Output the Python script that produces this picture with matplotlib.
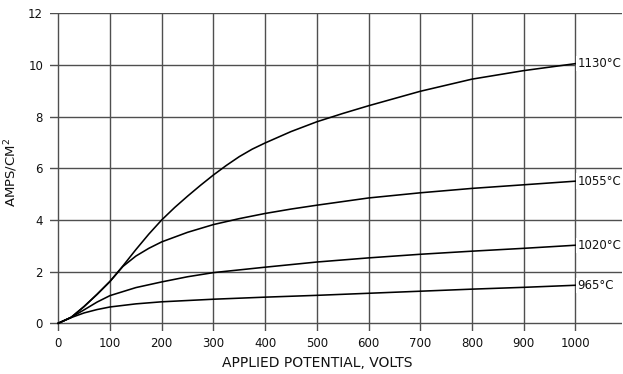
import numpy as np
from matplotlib import pyplot as plt

# === DATA ===
volts_1130 = [0, 25, 50, 75, 100, 125, 150, 175, 200, 225, 250, 275, 300, 325, 350, 375, 400, 450, 500, 550, 600, 700, 800, 900, 1000]
amps_1130 = [0, 0.23, 0.65, 1.12, 1.62, 2.22, 2.85, 3.45, 4.0, 4.48, 4.92, 5.34, 5.74, 6.11, 6.45, 6.74, 6.98, 7.42, 7.8, 8.12, 8.42, 8.98, 9.45, 9.78, 10.05]

volts_1055 = [0, 25, 50, 75, 100, 125, 150, 175, 200, 250, 300, 350, 400, 450, 500, 600, 700, 800, 900, 1000]
amps_1055 = [0, 0.23, 0.65, 1.12, 1.62, 2.2, 2.6, 2.9, 3.15, 3.52, 3.82, 4.05, 4.25, 4.42, 4.57, 4.85, 5.05, 5.22, 5.36, 5.5]

volts_1020 = [0, 25, 50, 75, 100, 150, 200, 250, 300, 400, 500, 600, 700, 800, 900, 1000]
amps_1020 = [0, 0.23, 0.52, 0.82, 1.07, 1.38, 1.6, 1.8, 1.96, 2.17, 2.37, 2.53, 2.67, 2.79, 2.9, 3.02]

volts_965 = [0, 25, 50, 75, 100, 150, 200, 300, 400, 500, 600, 700, 800, 900, 1000]
amps_965 = [0, 0.22, 0.4, 0.53, 0.63, 0.75, 0.83, 0.93, 1.01, 1.08, 1.16, 1.24, 1.32, 1.39, 1.47]

curve_labels = ['1130°C', '1055°C', '1020°C', '965°C']
x_ticks = [0, 100, 200, 300, 400, 500, 600, 700, 800, 900, 1000]
y_ticks = [0, 2, 4, 6, 8, 10, 12]

plt.rcParams['font.family'] = ['DejaVu Sans']
text_color = '#111111'
grid_color = '#4f4f4f'

fig = plt.figure(figsize=(6.23, 3.74), dpi=100)
ax = fig.add_axes([0.0803, 0.115, 0.918, 0.8495])

# grid: vertical lines only up to 1000, horizontal lines run to the right edge
for x in x_ticks:
    ax.axvline(x, color=grid_color, linewidth=1.0, zorder=1)
for y in y_ticks:
    ax.axhline(y, color=grid_color, linewidth=1.0, zorder=1)

curves = [(volts_1130, amps_1130), (volts_1055, amps_1055),
          (volts_1020, amps_1020), (volts_965, amps_965)]
for (v, a), label in zip(curves, curve_labels):
    ax.plot(v, a, color='black', linewidth=1.15, zorder=3)
    ax.text(v[-1] + 4, a[-1], label, fontsize=8.5, color=text_color,
            ha='left', va='center', zorder=4,
            bbox=dict(boxstyle='square,pad=0.1', facecolor='white', edgecolor='none'))

ax.set_xlim(-16, 1090)
ax.set_ylim(-0.3, 12)
for s in ax.spines.values():
    s.set_visible(False)

ax.set_xticks(x_ticks)
ax.set_yticks(y_ticks)
ax.tick_params(length=0, labelsize=8.5, labelcolor=text_color)
ax.tick_params(axis='x', pad=4)
ax.tick_params(axis='y', pad=5)

ax.set_ylabel('AMPS/CM$^2$', fontsize=9.5, color=text_color, labelpad=6)
ax.text(500, -1.55, 'APPLIED POTENTIAL, VOLTS', fontsize=10, color=text_color,
        ha='center', va='center')

fig.savefig('out.png', dpi=100)
